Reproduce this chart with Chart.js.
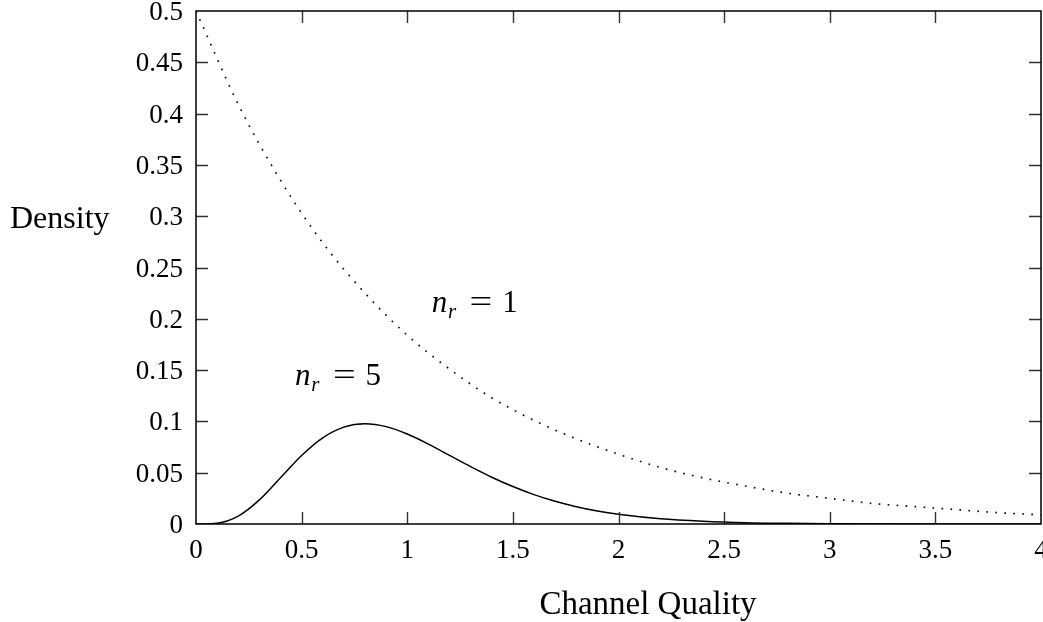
<!DOCTYPE html>
<html>
<head>
<meta charset="utf-8">
<script src="https://cdn.jsdelivr.net/npm/chart.js@4/dist/chart.umd.min.js"></script>
<style>
  html, body { margin: 0; padding: 0; background: #fff; }
  #wrap { width: 1043px; height: 622px; position: relative; }
  canvas { display: block; }
</style>
</head>
<body>
<div id="wrap"><canvas id="c" width="1043" height="622"></canvas></div>
<script>
// ---------- data ----------
const xTickValues = [0, 0.5, 1, 1.5, 2, 2.5, 3, 3.5, 4];
const yTickValues = [0, 0.05, 0.1, 0.15, 0.2, 0.25, 0.3, 0.35, 0.4, 0.45, 0.5];

const xAxisTitle = 'Channel Quality';
const yAxisTitle = 'Density';

// n_r = 1 (dotted)
const xNr1 = [0, 0.2, 0.4, 0.6, 0.8, 1.0, 1.2, 1.4, 1.6, 1.8, 2.0, 2.2, 2.4, 2.6, 2.8, 3.0, 3.2, 3.4, 3.6, 3.8, 4.0];
const densityNr1 = [0.5, 0.409, 0.335, 0.274, 0.225, 0.184, 0.151, 0.123, 0.101, 0.083, 0.068, 0.055, 0.045, 0.037, 0.030, 0.025, 0.020, 0.017, 0.014, 0.011, 0.009];

// n_r = 5 (solid)
const xNr5 = [0, 0.1, 0.2, 0.3, 0.4, 0.5, 0.6, 0.7, 0.8, 0.9, 1.0, 1.1, 1.2, 1.3, 1.4, 1.5, 1.6, 1.7, 1.8, 1.9, 2.0, 2.2, 2.4, 2.6, 2.8, 3.0, 3.5, 4.0];
const densityNr5 = [0, 0.0008, 0.0077, 0.0235, 0.0451, 0.0668, 0.0840, 0.0944, 0.0977, 0.0949, 0.0877, 0.0779, 0.0669, 0.0559, 0.0456, 0.0365, 0.0286, 0.0221, 0.0169, 0.0127, 0.0095, 0.0051, 0.0027, 0.0013, 0.0007, 0.0003, 0.00005, 0.00001];

const seriesNr = ['1', '5'];

// ---------- layout / style (not data) ----------
const FONT = '"Liberation Serif", "Times New Roman", serif';
const labelAnchors = [
  { x: 1.117, y: 0.2066 },   // n_r = 1
  { x: 0.470, y: 0.1355 }    // n_r = 5
];

function toPoints(xs, ys) { return xs.map((v, i) => ({ x: v, y: ys[i] })); }

const framePlugin = {
  id: 'framePlugin',
  afterDraw(chart) {
    const { ctx, chartArea: a, scales: { x, y } } = chart;
    ctx.save();
    // inward ticks
    ctx.strokeStyle = '#333';
    ctx.lineWidth = 1.4;
    const tl = 12;
    ctx.beginPath();
    xTickValues.forEach(v => {
      if (v === xTickValues[0] || v === xTickValues[xTickValues.length - 1]) return;
      const px = Math.round(x.getPixelForValue(v)) + 0.5;
      ctx.moveTo(px, a.bottom); ctx.lineTo(px, a.bottom - tl);
      ctx.moveTo(px, a.top); ctx.lineTo(px, a.top + tl);
    });
    yTickValues.forEach(v => {
      if (v === yTickValues[0] || v === yTickValues[yTickValues.length - 1]) return;
      const py = Math.round(y.getPixelForValue(v)) + 0.5;
      ctx.moveTo(a.left, py); ctx.lineTo(a.left + tl, py);
      ctx.moveTo(a.right, py); ctx.lineTo(a.right - tl, py);
    });
    ctx.stroke();
    // frame
    ctx.strokeStyle = '#000';
    ctx.lineWidth = 1.5;
    ctx.strokeRect(a.left, a.top, a.right - a.left, a.bottom - a.top);

    // axis titles
    ctx.fillStyle = '#000';
    ctx.font = '32px ' + FONT;
    ctx.textBaseline = 'alphabetic';
    ctx.textAlign = 'left';
    ctx.fillText(yAxisTitle, 10, 228);
    ctx.font = '33px ' + FONT;
    ctx.textAlign = 'center';
    ctx.fillText(xAxisTitle, 648, 614);

    // curve labels  n_r = k
    seriesNr.forEach((num, i) => {
      const px = x.getPixelForValue(labelAnchors[i].x);
      const py = y.getPixelForValue(labelAnchors[i].y);
      ctx.textAlign = 'center';
      ctx.font = 'italic 31px ' + FONT;
      ctx.fillText('n', px + 7.5, py);
      ctx.font = 'italic 21px ' + FONT;
      ctx.fillText('r', px + 20, py + 6);
      ctx.font = '31px ' + FONT;
      ctx.save();
      ctx.translate(px + 49, py);
      ctx.scale(1.3, 1);
      ctx.fillText('=', 0, 0);
      ctx.restore();
      ctx.fillText(num, px + 78, py);
    });
    ctx.restore();
  }
};

const fmt = v => String(parseFloat(Number(v).toFixed(2)));

new Chart(document.getElementById('c'), {
  type: 'line',
  data: {
    datasets: [
      {
        label: 'n_r = 1',
        data: toPoints(xNr1, densityNr1),
        borderColor: '#111',
        borderWidth: 1.7,
        borderDash: [1.7, 7.3],
        pointRadius: 0,
        fill: false,
        cubicInterpolationMode: 'monotone'
      },
      {
        label: 'n_r = 5',
        data: toPoints(xNr5, densityNr5),
        borderColor: '#000',
        borderWidth: 1.5,
        pointRadius: 0,
        fill: false,
        cubicInterpolationMode: 'monotone'
      }
    ]
  },
  options: {
    responsive: false,
    animation: false,
    devicePixelRatio: 1,
    layout: { padding: { top: 11, right: 2, left: 0, bottom: 0 } },
    plugins: { legend: { display: false }, tooltip: { enabled: false }, title: { display: false } },
    scales: {
      x: {
        type: 'linear',
        min: 0, max: 4,
        afterBuildTicks: s => { s.ticks = xTickValues.map(v => ({ value: v })); },
        afterFit: s => { s.height = 98; s.paddingLeft = 0; s.paddingRight = 0; },
        grid: { display: false, drawTicks: false },
        border: { display: false },
        ticks: {
          color: '#000',
          font: { family: FONT, size: 27 },
          padding: 11,
          maxRotation: 0,
          autoSkip: false,
          callback: v => fmt(v)
        }
      },
      y: {
        type: 'linear',
        min: 0, max: 0.5,
        afterBuildTicks: s => { s.ticks = yTickValues.map(v => ({ value: v })); },
        afterFit: s => { s.width = 196; s.paddingTop = 0; s.paddingBottom = 0; },
        grid: { display: false, drawTicks: false },
        border: { display: false },
        ticks: {
          color: '#000',
          font: { family: FONT, size: 27 },
          padding: 13,
          labelOffset: 2,
          autoSkip: false,
          callback: v => fmt(v)
        }
      }
    }
  },
  plugins: [framePlugin]
});
</script>
</body>
</html>
